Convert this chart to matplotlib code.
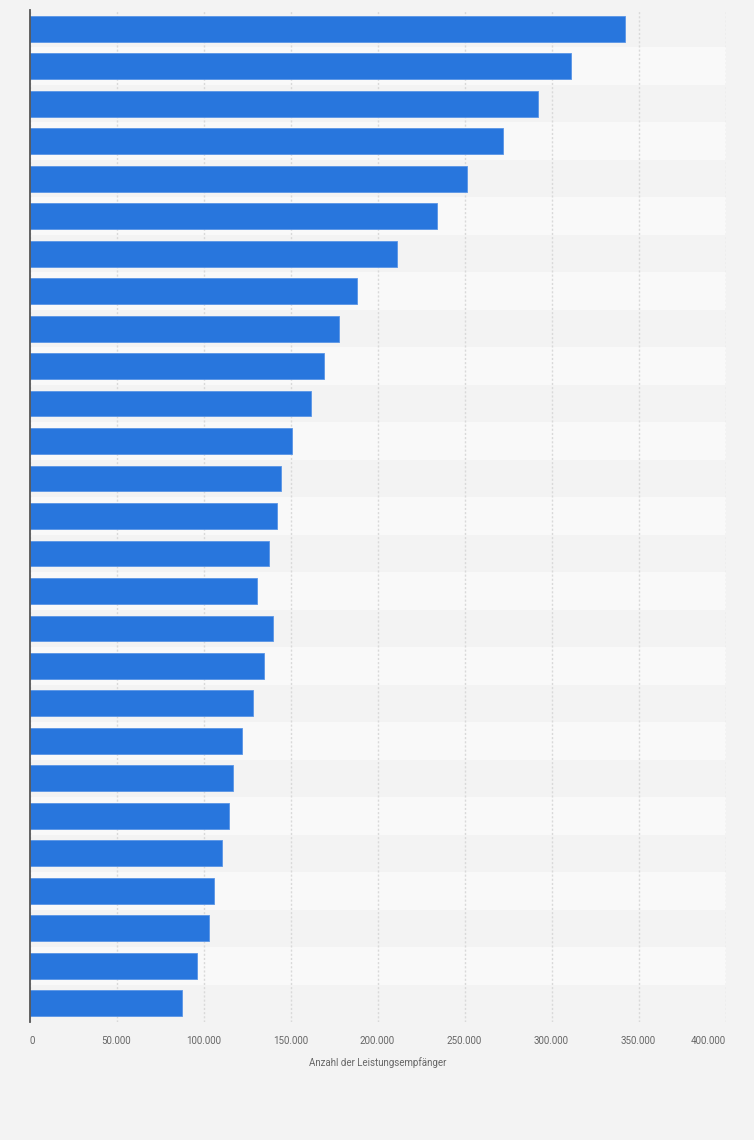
import matplotlib
matplotlib.use("Agg")
import matplotlib.pyplot as plt
from matplotlib.ticker import FuncFormatter

# Data (category labels not shown in the reference)
ranks = list(range(1, 28))
values = [342400, 311200, 292200, 272100, 251400, 234100, 211200, 188100,
          177800, 169000, 161500, 150600, 144800, 142500, 137900, 130500,
          139700, 134500, 128200, 122400, 116700, 114400, 110900, 106300,
          102900, 96500, 87900]
xticks = [0, 50000, 100000, 150000, 200000, 250000, 300000, 350000, 400000]
xlabel = "Anzahl der Leistungsempfänger"

plt.rcParams['font.family'] = ['Roboto', 'DejaVu Sans']

W, H = 754, 1140
fig = plt.figure(figsize=(W / 100, H / 100), dpi=100)
bg = '#f3f3f3'
fig.patch.set_facecolor(bg)

left, right, top, bottom = 29.5, 725.5, 10, 1022
ax = fig.add_axes([left / W, 1 - bottom / H, (right - left) / W, (bottom - top) / H])
ax.set_facecolor(bg)

n = len(values)
ypos = list(range(n))
for i in ypos:
    if i % 2 == 1:
        ax.axhspan(i - 0.5, i + 0.5, color='#f9f9f9', zorder=0, lw=0)

ax.barh(ypos, values, height=0.69, color='#2876dd', edgecolor='#5a95e6',
        linewidth=0.6, zorder=3)

ax.set_xlim(0, 400000)
ax.set_ylim(n - 0.5, -0.5)
ax.set_yticks([])
ax.set_xticks(xticks)
ax.xaxis.set_major_formatter(FuncFormatter(lambda v, p: f"{int(v):,}".replace(",", ".")))
ax.tick_params(axis='x', length=0, pad=10, labelsize=7, labelcolor='#666666')
ax.grid(axis='x', color='#d9d9d9', linestyle=(0, (1.5, 1.5)), linewidth=1, zorder=1)
ax.set_axisbelow(True)

for s in ['top', 'right', 'bottom']:
    ax.spines[s].set_visible(False)
ax.spines['left'].set_color('#555555')
ax.spines['left'].set_linewidth(1.3)
ax.spines['left'].set_zorder(4)

labels = ax.get_xticklabels()
labels[0].set_horizontalalignment('left')
labels[-1].set_horizontalalignment('right')

ax.set_xlabel(xlabel, fontsize=7, color='#666666', labelpad=8)

fig.savefig("out.png", dpi=100, facecolor=bg)
